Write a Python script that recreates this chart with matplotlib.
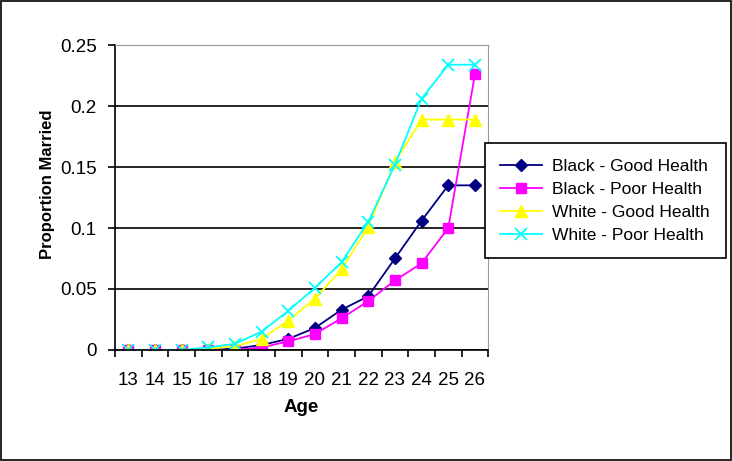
import numpy as np
import matplotlib.pyplot as plt

plt.rcParams['font.family'] = ['Liberation Sans', 'DejaVu Sans']

ages = [13, 14, 15, 16, 17, 18, 19, 20, 21, 22, 23, 24, 25, 26]
black_good = [0, 0, 0, 0, 0.001, 0.004, 0.009, 0.018, 0.033, 0.044, 0.075, 0.106, 0.135, 0.135]
black_poor = [0, 0, 0, 0, 0, 0.002, 0.007, 0.013, 0.026, 0.040, 0.057, 0.071, 0.100, 0.226]
white_good = [0, 0, 0, 0.001, 0.003, 0.009, 0.024, 0.042, 0.066, 0.101, 0.154, 0.189, 0.189, 0.189]
white_poor = [0, 0, 0, 0.002, 0.005, 0.015, 0.032, 0.051, 0.072, 0.105, 0.152, 0.206, 0.234, 0.234]

fig = plt.figure(figsize=(7.32, 4.61), dpi=100)
ax = fig.add_axes([0.157, 0.241, 0.510, 0.661])

x = np.arange(len(ages))
ax.plot(x, black_good, color='#000080', marker='D', markersize=6, lw=1.3, label='Black - Good Health')
ax.plot(x, black_poor, color='#FF00FF', marker='s', markersize=7, lw=1.3, label='Black - Poor Health')
ax.plot(x, white_good, color='#FFFF00', marker='^', markersize=8, lw=1.3, label='White - Good Health')
ax.plot(x, white_poor, color='#00FFFF', marker='x', markersize=8, mew=1.3, lw=1.3, label='White - Poor Health')

ax.set_xlim(-0.5, len(ages) - 0.5)
ax.set_ylim(0, 0.25)
ax.set_yticks([0, 0.05, 0.1, 0.15, 0.2, 0.25])
ax.set_yticklabels(['0', '0.05', '0.1', '0.15', '0.2', '0.25'], fontsize=13.5)
ax.yaxis.grid(True, color='black', lw=1.2)
ax.set_axisbelow(True)

ax.set_xticks(x)
ax.set_xticklabels([str(a) for a in ages], fontsize=13.5)
ax.tick_params(axis='x', which='major', length=0, pad=16)
ax.set_xticks(np.arange(-0.5, len(ages), 1), minor=True)
ax.tick_params(axis='x', which='minor', length=5, width=1.2, direction='out')
ax.tick_params(axis='y', length=5, width=1.2, direction='out', pad=8)

for s in ['top', 'right']:
    ax.spines[s].set_color('#999999')
for s in ['left', 'bottom']:
    ax.spines[s].set_linewidth(1.2)

ax.set_xlabel('Age', fontsize=13.5, fontweight='bold', labelpad=7)
ax.set_ylabel('Proportion Married', fontsize=12, fontweight='bold')
ax.yaxis.set_label_coords(-0.16, 0.545)

leg = fig.legend(loc='upper left', bbox_to_anchor=(0.662, 0.69), fontsize=12.5,
                 frameon=True, fancybox=False, edgecolor='black', framealpha=1,
                 handlelength=2.4, borderpad=0.9, labelspacing=0.45, handletextpad=0.6,
                 borderaxespad=0)
leg.get_frame().set_linewidth(1.2)

fig.patches.append(plt.Rectangle((0.002, 0.003), 0.996, 0.994, transform=fig.transFigure,
                                 fill=False, edgecolor='black', lw=1.2))

fig.savefig('out.png', dpi=100)
